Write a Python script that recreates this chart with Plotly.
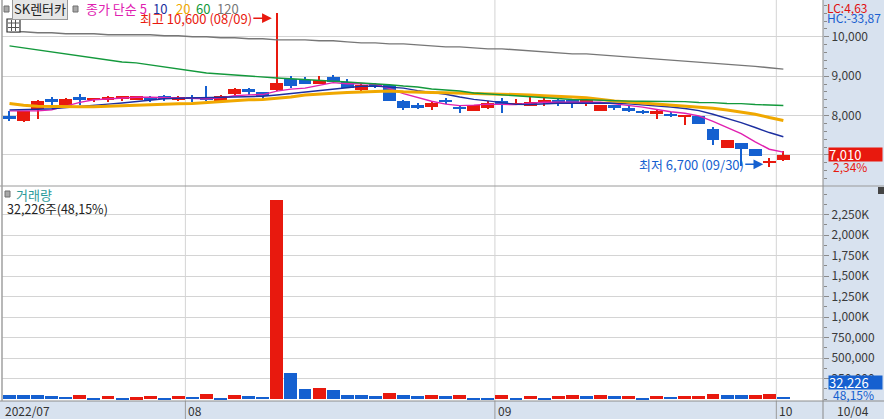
import plotly.graph_objects as go

W, H = 884, 419

dates = [
    "2022-07-13", "2022-07-14", "2022-07-15", "2022-07-18", "2022-07-19", "2022-07-20", "2022-07-21", "2022-07-22",
    "2022-07-25", "2022-07-26", "2022-07-27", "2022-07-28", "2022-07-29",
    "2022-08-01", "2022-08-02", "2022-08-03", "2022-08-04", "2022-08-05", "2022-08-08", "2022-08-09", "2022-08-10",
    "2022-08-11", "2022-08-12", "2022-08-16", "2022-08-17", "2022-08-18", "2022-08-19", "2022-08-22", "2022-08-23",
    "2022-08-24", "2022-08-25", "2022-08-26", "2022-08-29", "2022-08-30", "2022-08-31",
    "2022-09-01", "2022-09-02", "2022-09-05", "2022-09-06", "2022-09-07", "2022-09-08", "2022-09-13", "2022-09-14",
    "2022-09-15", "2022-09-16", "2022-09-19", "2022-09-20", "2022-09-21", "2022-09-22", "2022-09-23", "2022-09-26",
    "2022-09-27", "2022-09-28", "2022-09-29", "2022-09-30",
    "2022-10-04",
]

opens = [8000, 7870, 8170, 8410, 8220, 8480, 8390, 8390, 8430, 8400, 8460, 8500, 8400, 8460,
         8430, 8380, 8540, 8680, 8600, 8640, 8940, 8910, 8810, 8990, 8860, 8660, 8800, 8780,
         8380, 8270, 8220, 8400, 8200, 8120, 8200, 8380, 8270, 8250, 8320, 8400, 8400, 8300,
         8120, 8270, 8200, 8100, 8050, 8050, 8000, 8000, 7660, 7180, 7300, 7150, 6790, 6870]
highs = [8110, 8120, 8400, 8460, 8450, 8550, 8450, 8510, 8500, 8500, 8500, 8530, 8510, 8530,
         8740, 8530, 8690, 8710, 8600, 10600, 9010, 8990, 9010, 9040, 8940, 8820, 8840, 8790,
         8400, 8320, 8380, 8450, 8270, 8280, 8380, 8450, 8430, 8480, 8450, 8430, 8430, 8450,
         8280, 8280, 8250, 8150, 8170, 8080, 8010, 8000, 7710, 7380, 7300, 7150, 6930, 7100]
lows = [7870, 7840, 7920, 8250, 8220, 8270, 8350, 8340, 8380, 8400, 8350, 8370, 8380, 8340,
        8360, 8380, 8530, 8520, 8430, 8630, 8710, 8810, 8800, 8850, 8700, 8630, 8710, 8380,
        8150, 8170, 8150, 8300, 8070, 8120, 8170, 8070, 8270, 8250, 8250, 8250, 8200, 8250,
        8120, 8150, 8100, 8050, 7910, 7970, 7760, 7790, 7250, 7180, 6720, 6970, 6700, 6860]
closes = [7920, 8120, 8380, 8350, 8430, 8400, 8450, 8480, 8500, 8500, 8390, 8410, 8480, 8450,
          8400, 8510, 8680, 8590, 8490, 8840, 8760, 8810, 8910, 8860, 8710, 8780, 8720, 8380,
          8200, 8200, 8320, 8350, 8190, 8270, 8320, 8300, 8320, 8350, 8400, 8320, 8300, 8400,
          8270, 8200, 8120, 8080, 8110, 7980, 8010, 7790, 7380, 7380, 7150, 6970, 6850, 7010]

volumes = [57000, 56000, 57000, 33000, 32000, 45000, 20000, 33000, 20000, 21000, 33000, 20000, 33000, 32000,
           69000, 20000, 45000, 33000, 32000, 2427000, 320000, 130000, 142000, 106000, 57000, 45000, 33000, 81000,
           45000, 33000, 45000, 44000, 57000, 20000, 19000, 45000, 20000, 33000, 20000, 33000, 45000, 44000,
           46000, 33000, 34000, 20000, 33000, 32000, 33000, 34000, 69000, 57000, 45000, 57000, 66930, 32226]
vol_up = [0, 0, 0, 0, 0, 1, 0, 1, 0, 1, 1, 0, 1, 0, 1, 0, 1, 0, 0, 1, 0, 0, 1, 0, 0, 0, 0, 1,
          0, 0, 1, 0, 1, 0, 0, 1, 0, 1, 0, 1, 1, 0, 1, 0, 1, 0, 1, 0, 1, 1, 1, 0, 0, 1, 1, 0]

ma5 = [8121, 8121, 8121, 8146, 8240, 8336, 8402, 8422, 8452, 8466, 8464, 8456, 8456, 8446,
       8426, 8450, 8504, 8526, 8534, 8622, 8672, 8698, 8762, 8836, 8810, 8814, 8796, 8690,
       8558, 8456, 8364, 8290, 8252, 8266, 8290, 8286, 8280, 8312, 8338, 8338, 8338, 8354,
       8338, 8298, 8258, 8214, 8156, 8098, 8060, 7994, 7854, 7708, 7542, 7334, 7146, 7072]
ma10 = [8146, 8146, 8160, 8172, 8197, 8230, 8260, 8290, 8320, 8353, 8400, 8429, 8439, 8449,
        8446, 8457, 8480, 8491, 8490, 8524, 8561, 8601, 8644, 8685, 8716, 8743, 8747, 8726,
        8697, 8633, 8589, 8543, 8471, 8412, 8373, 8325, 8285, 8282, 8302, 8314, 8312, 8317,
        8325, 8318, 8298, 8276, 8255, 8218, 8179, 8126, 8034, 7932, 7820, 7697, 7570, 7463]
ma20 = [8307, 8260, 8235, 8225, 8225, 8223, 8225, 8240, 8250, 8265, 8280, 8290, 8300, 8310,
        8333, 8358, 8384, 8400, 8410, 8437, 8470, 8520, 8550, 8565, 8588, 8600, 8613, 8625,
        8605, 8588, 8585, 8582, 8575, 8560, 8555, 8548, 8535, 8525, 8505, 8480, 8470, 8450,
        8405, 8370, 8345, 8318, 8290, 8262, 8245, 8215, 8185, 8140, 8090, 8035, 7950, 7875]
ma60 = [9770, 9719, 9668, 9617, 9566, 9515, 9464, 9413, 9362, 9337, 9286, 9235, 9184, 9133,
        9082, 9057, 9031, 8990, 8975, 8955, 8937, 8920, 8904, 8878, 8853, 8827, 8810, 8784,
        8750, 8725, 8674, 8648, 8623, 8572, 8546, 8521, 8495, 8470, 8444, 8427, 8409, 8401,
        8384, 8376, 8368, 8365, 8362, 8358, 8355, 8333, 8330, 8307, 8304, 8281, 8278, 8256]
ma120 = [10128, 10128, 10102, 10102, 10077, 10077, 10077, 10051, 10051, 10051, 10051, 10026, 10026, 10000,
         10000, 9974, 9974, 9949, 9949, 9923, 9923, 9923, 9898, 9898, 9872, 9847, 9847, 9821,
         9821, 9796, 9770, 9745, 9745, 9719, 9694, 9694, 9668, 9643, 9617, 9592, 9566, 9566,
         9541, 9515, 9490, 9464, 9439, 9413, 9388, 9362, 9337, 9311, 9286, 9250, 9215, 9180]

ma_periods = [5, 10, 20, 60, 120]
price_tickvals = [7000, 8000, 9000, 10000]
price_ticktext = ["", "8,000", "9,000", "10,000"]
vol_tickvals = [250000, 500000, 750000, 1000000, 1250000, 1500000, 1750000, 2000000, 2250000]
vol_ticktext = ["250,000", "500,000", "750,000", "1,000K", "1,250K", "1,500K", "1,750K", "2,000K", "2,250K"]

RED = "#e8190e"
BLUE = "#1560d0"
MA_COLORS = ["#e020b0", "#1c2fa0", "#f0a800", "#13993c", "#777777"]
MA_WIDTHS = [1.4, 1.4, 3, 1.4, 1.4]
PANEL_BG = "#d8e2ef"
GRID = "#d4d4d4"
FONT = "Noto Sans CJK KR, Noto Sans, sans-serif"


def X(p):
    return p / W


def Y(p):
    return 1 - p / H


n = len(dates)
xs = list(range(n))

fig = go.Figure()

# moving averages
for ma, col, wd in zip([ma5, ma10, ma20, ma60, ma120], MA_COLORS, MA_WIDTHS):
    fig.add_trace(go.Scatter(x=xs, y=ma, mode="lines", line=dict(color=col, width=wd),
                             hoverinfo="skip", xaxis="x", yaxis="y"))

# candles
ccol = [RED if c >= o else BLUE for o, c in zip(opens, closes)]
mids = [(o + c) / 2 for o, c in zip(opens, closes)]
blen = [max(abs(c - o), 38) for o, c in zip(opens, closes)]
fig.add_trace(go.Bar(x=xs, y=[h - l for h, l in zip(highs, lows)], base=lows, width=0.075,
                     marker=dict(color=ccol, line=dict(width=0)), hoverinfo="skip",
                     xaxis="x", yaxis="y"))
fig.add_trace(go.Bar(x=xs, y=blen, base=[m - b / 2 for m, b in zip(mids, blen)], width=0.92,
                     marker=dict(color=ccol, line=dict(width=0)),
                     hovertext=dates, xaxis="x", yaxis="y"))

# volume
vcol = [RED if u else BLUE for u in vol_up]
fig.add_trace(go.Bar(x=xs, y=volumes, width=0.92, marker=dict(color=vcol, line=dict(width=0)),
                     hovertext=dates, xaxis="x2", yaxis="y2"))

xr = [(2 - 9.5) / 14.07, (823 - 9.5) / 14.07]

axis_common = dict(showgrid=False, zeroline=False, showticklabels=False, ticks="", fixedrange=True)
fig.update_layout(
    width=W, height=H, margin=dict(l=0, r=0, t=0, b=0),
    paper_bgcolor="white", plot_bgcolor="white", showlegend=False,
    barmode="overlay", bargap=0,
    font=dict(family=FONT, size=12, color="#333333"),
    xaxis=dict(domain=[2 / W, 823 / W], range=xr, anchor="y", **axis_common),
    xaxis2=dict(domain=[2 / W, 823 / W], range=xr, anchor="y2", matches="x", **axis_common),
    yaxis=dict(domain=[Y(186), 1], range=[6213, 10934], side="right", anchor="x",
               tickmode="array", tickvals=price_tickvals, ticktext=price_ticktext,
               ticks="outside", ticklen=5,
               tickcolor="#8a8a8a", showline=False, showgrid=True, gridcolor=GRID, gridwidth=1,
               zeroline=False, fixedrange=True,
               minor=dict(tickmode="linear", tick0=0, dtick=200, ticklen=3, tickcolor="#8a8a8a",
                          showgrid=False, ticks="outside"),
               tickfont=dict(size=12, color="#3a3a3a", family=FONT)),
    yaxis2=dict(domain=[Y(400), Y(187)], range=[-10000, 2588000], side="right", anchor="x2",
                tickmode="array", tickvals=vol_tickvals, ticktext=vol_ticktext,
                ticks="outside", ticklen=5, tickcolor="#8a8a8a", showline=False,
                showgrid=True, gridcolor=GRID, gridwidth=1, zeroline=False, fixedrange=True,
                minor=dict(tickmode="linear", tick0=0, dtick=125000, ticklen=3,
                           tickcolor="#8a8a8a", showgrid=False, ticks="outside"),
                tickfont=dict(size=12, color="#3a3a3a", family=FONT)),
)

shapes = []
# right panel & bottom band backgrounds
shapes.append(dict(type="rect", xref="paper", yref="paper", x0=X(823), x1=1, y0=Y(401), y1=1,
                   fillcolor=PANEL_BG, line=dict(width=0), layer="below"))
shapes.append(dict(type="rect", xref="paper", yref="paper", x0=0, x1=1, y0=0, y1=Y(401),
                   fillcolor=PANEL_BG, line=dict(width=0), layer="below"))

# month boundaries
bounds = [i - 0.5 for i in range(1, n) if dates[i][:7] != dates[i - 1][:7]]
for b in bounds:
    shapes.append(dict(type="line", xref="x", yref="paper", x0=b, x1=b, y0=Y(401), y1=1,
                       line=dict(color=GRID, width=1), layer="below"))
    shapes.append(dict(type="line", xref="x", yref="paper", x0=b, x1=b, y0=0, y1=Y(401),
                       line=dict(color="#9a9a9a", width=1)))

# frame lines
shapes += [
    dict(type="line", xref="paper", yref="paper", x0=0, x1=1, y0=Y(401), y1=Y(401),
         line=dict(color="#8c8c8c", width=1)),
    dict(type="line", xref="paper", yref="paper", x0=0, x1=1, y0=Y(186), y1=Y(186),
         line=dict(color="#9a9a9a", width=1)),
    dict(type="line", xref="paper", yref="paper", x0=X(823), x1=X(823), y0=0, y1=1,
         line=dict(color="#8a8a8a", width=1)),
    dict(type="line", xref="paper", yref="paper", x0=X(2), x1=X(2), y0=Y(401), y1=1,
         line=dict(color="#a0a0a0", width=1.5)),
]
# small legend squares
for (sx, sy) in [(4, 6), (73, 6), (5, 191)]:
    shapes.append(dict(type="rect", xref="paper", yref="paper", x0=X(sx), x1=X(sx + 5),
                       y0=Y(sy + 6), y1=Y(sy), fillcolor="#a8a8a8", line=dict(color="#707070", width=1)))
# grid icon
shapes.append(dict(type="rect", xref="paper", yref="paper", x0=X(7), x1=X(20), y0=Y(32), y1=Y(19),
                   fillcolor="white", line=dict(color="#333333", width=1.2)))
for yy in [23, 27.5]:
    shapes.append(dict(type="line", xref="paper", yref="paper", x0=X(8), x1=X(19), y0=Y(yy), y1=Y(yy),
                       line=dict(color="#555555", width=1)))
for xx in [11.5, 15.5]:
    shapes.append(dict(type="line", xref="paper", yref="paper", x0=X(xx), x1=X(xx), y0=Y(31), y1=Y(20),
                       line=dict(color="#555555", width=1)))
# corner icon
shapes.append(dict(type="rect", xref="paper", yref="paper", x0=X(878), x1=1, y0=Y(194), y1=Y(187),
                   fillcolor="#444444", line=dict(width=0)))

fig.update_layout(shapes=shapes)


def fmt2(v):
    return f"{v:.2f}".replace(".", ",")


def md(d):
    return f"{d[5:7]}/{d[8:10]}"


imax = highs.index(max(highs))
imin = lows.index(min(lows))
last = closes[-1]
chg = (closes[-1] / closes[-2] - 1) * 100
lc = (last / lows[imin] - 1) * 100
hc = (last / highs[imax] - 1) * 100
vchg = volumes[-1] / volumes[-2] * 100

ann = []


def txt(x, y, s, color="#333333", size=12, xanchor="left", **kw):
    d = dict(x=X(x), y=Y(y), xref="paper", yref="paper", text=s, showarrow=False,
             xanchor=xanchor, yanchor="middle", font=dict(color=color, size=size, family=FONT))
    d.update(kw)
    ann.append(d)


# header
txt(12, 8.5, "SK렌터카", color="#222222", size=13, bgcolor="#e6e6e6", bordercolor="#9a9a9a",
    borderwidth=1, borderpad=1)
txt(84, 8.5, f"종가 단순 {ma_periods[0]}", color=MA_COLORS[0], size=13)
for px_, p, c in zip([151, 174, 194, 215], ma_periods[1:], MA_COLORS[1:]):
    txt(px_, 8.5, str(p), color=c, size=13)

# right side info
txt(825, 7, f"LC:{fmt2(lc)}", color="#e01010")
txt(825, 17.5, f"HC:{fmt2(hc)}", color="#1a5fd0")
txt(828, 154.5, f"{last:,}", color="white", size=13, bgcolor=RED, width=53, align="left",
    borderpad=0, height=13)
txt(831, 166, f"{fmt2(chg)}%", color=RED)

# volume info
txt(14, 194, "거래량", color="#2a9a9a", size=13)
txt(5, 208, f"{volumes[-1]:,}주({fmt2(vchg)}%)", color="#222222", size=12.5)
txt(828, 382.5, f"{volumes[-1]:,}", color="white", size=13, bgcolor=BLUE, width=53, align="left",
    borderpad=0, height=13)
txt(831, 394.5, f"{fmt2(vchg)}%", color=BLUE)

# high / low markers
ann.append(dict(x=imax, y=highs[imax], xref="x", yref="y", text=f"최고 {highs[imax]:,} ({md(dates[imax])})",
                showarrow=True, ax=-81, ay=0, arrowhead=2, arrowsize=1.3, arrowwidth=1.5,
                arrowcolor=RED, standoff=5, yshift=-5, font=dict(color=RED, size=13, family=FONT)))
ann.append(dict(x=imin, y=lows[imin], xref="x", yref="y", text=f"최저 {lows[imin]:,} ({md(dates[imin])})",
                showarrow=True, ax=-78, ay=0, arrowhead=2, arrowsize=1.3, arrowwidth=1.5,
                arrowcolor=BLUE, standoff=6, yshift=2.5, font=dict(color=BLUE, size=13, family=FONT)))

# bottom date labels
ann.append(dict(x=-0.5, y=Y(410), xref="x", yref="paper", text=dates[0][:7].replace("-", "/"),
                showarrow=False, xanchor="left", yanchor="middle", xshift=1,
                font=dict(size=12, color="#333333", family=FONT)))
for b in bounds:
    i = int(b + 0.5)
    ann.append(dict(x=b, y=Y(410), xref="x", yref="paper", text=dates[i][5:7],
                    showarrow=False, xanchor="left", yanchor="middle", xshift=1,
                    font=dict(size=12, color="#333333", family=FONT)))
txt(835, 410, md(dates[-1]), color="#333333")

fig.update_layout(annotations=ann)

fig.write_html("out.html", config={"displayModeBar": False},
               post_script="document.body.style.margin='0';document.body.style.padding='0';"
                           "document.body.style.overflow='hidden';")
